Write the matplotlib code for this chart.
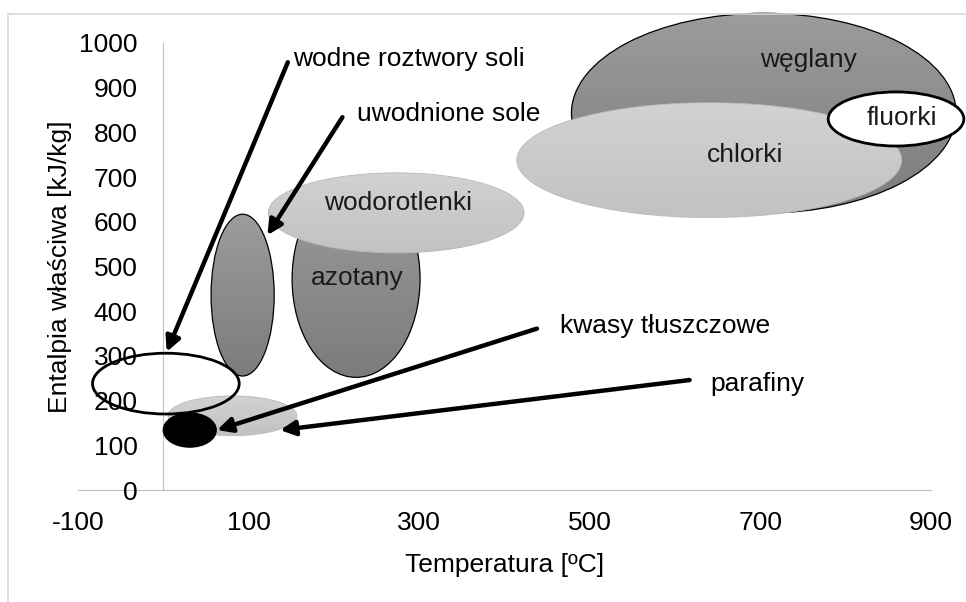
import numpy as np
import matplotlib
matplotlib.use('Agg')
import matplotlib.pyplot as plt
from matplotlib.patches import Ellipse, Rectangle
from matplotlib.colors import LinearSegmentedColormap

plt.rcParams['font.family'] = ['Liberation Sans', 'DejaVu Sans']
plt.rcParams['axes.unicode_minus'] = False

# ellipses: centre (temperature, enthalpy), width, height
groups = ['azotany', 'wodorotlenki', 'uwodnione sole', 'węglany', 'chlorki', 'fluorki',
          'parafiny', 'kwasy tłuszczowe', 'wodne roztwory soli']
cx = [226, 273, 93, 704, 640, 859, 81, 31, 3]
cy = [472, 620, 436, 843, 738, 830, 166, 134, 238]
width = [150, 300, 74, 451, 451, 159, 151, 62, 172]
height = [440, 179, 362, 447, 257, 121, 89, 76, 136]
fill = ['dark', 'light', 'dark', 'dark', 'light', 'white', 'light', 'black', 'none']

# labels drawn inside the ellipses
inner_labels = ['azotany', 'wodorotlenki', 'węglany', 'chlorki', 'fluorki']
inner_x = [227, 275, 756, 682, 866]
inner_y = [474, 642, 962, 749, 832]

# labels with arrows: text position, arrow start, arrow tip
arrow_labels = ['wodne roztwory soli', 'uwodnione sole', 'kwasy tłuszczowe', 'parafiny']
label_x = [152, 227, 465, 641]
label_y = [965, 842, 368, 238]
start_x = [146, 210, 438, 617]
start_y = [957, 834, 361, 246]
tip_x = [4, 122, 63, 137]
tip_y = [309, 570, 134, 134]

FS = 19

fig = plt.figure(figsize=(9.66, 6.02), dpi=100)
fig.patches.append(Rectangle((8 / 966, -0.05), 1.1, 1 - 14 / 602 + 0.05,
                             transform=fig.transFigure, fill=False,
                             edgecolor='#d9d9d9', lw=1.2))
ax = fig.add_axes([78 / 966, 112 / 602, 853 / 966, 447 / 602])
ax.set_xlim(-100, 900)
ax.set_ylim(0, 1000)

dark = LinearSegmentedColormap.from_list('dark', ['#7c7c7c', '#9c9c9c'])
light = LinearSegmentedColormap.from_list('light', ['#c2c2c2', '#d2d2d2'])
grad = np.linspace(0, 1, 256).reshape(-1, 1)


def gradient_ellipse(x, y, w, h, cmap, edge, lw, z):
    e = Ellipse((x, y), w, h, facecolor='none', edgecolor=edge, lw=lw,
                zorder=z + 0.1, clip_on=False)
    ax.add_patch(e)
    im = ax.imshow(grad, cmap=cmap, origin='lower', aspect='auto',
                   extent=(x - w / 2, x + w / 2, y - h / 2, y + h / 2), zorder=z)
    im.set_clip_path(e)
    im.set_clip_box(fig.bbox)


for i, g in enumerate(groups):
    z = 2 + i
    if fill[i] == 'dark':
        gradient_ellipse(cx[i], cy[i], width[i], height[i], dark, 'black', 0.9, z)
    elif fill[i] == 'light':
        gradient_ellipse(cx[i], cy[i], width[i], height[i], light, '#b8b8b8', 0.6, z)
    elif fill[i] == 'white':
        ax.add_patch(Ellipse((cx[i], cy[i]), width[i], height[i], facecolor='white',
                             edgecolor='black', lw=2, zorder=z, clip_on=False))
    elif fill[i] == 'black':
        ax.add_patch(Ellipse((cx[i], cy[i]), width[i], height[i], facecolor='black',
                             edgecolor='black', lw=1, zorder=z))
    else:
        ax.add_patch(Ellipse((cx[i], cy[i]), width[i], height[i], facecolor='none',
                             edgecolor='black', lw=2, zorder=z))

for t, x, y in zip(inner_labels, inner_x, inner_y):
    ax.text(x, y, t, ha='center', va='center', fontsize=FS, color='#1a1a1a',
            zorder=20, clip_on=False)

for t, lx, ly, sx, sy, tx, ty in zip(arrow_labels, label_x, label_y,
                                     start_x, start_y, tip_x, tip_y):
    ax.text(lx, ly, t, ha='left', va='center', fontsize=FS, zorder=20)
    ax.annotate('', xy=(tx, ty), xytext=(sx, sy), zorder=21,
                arrowprops=dict(arrowstyle='-|>', lw=3.2, color='black',
                                mutation_scale=22, shrinkA=0, shrinkB=0))

ax.spines['top'].set_visible(False)
ax.spines['right'].set_visible(False)
ax.spines['left'].set_position(('data', 0))
ax.spines['left'].set_color('#c0c0c0')
ax.spines['bottom'].set_color('#c0c0c0')
ax.spines['left'].set_zorder(1)
ax.spines['bottom'].set_zorder(1)

ax.set_xticks(np.arange(-100, 901, 200))
ax.set_yticks(np.arange(0, 1001, 100))
ax.tick_params(axis='y', length=0, pad=18.5, labelsize=FS)
ax.tick_params(axis='x', length=0, pad=15, labelsize=FS)

ax.set_xlabel('Temperatura [ºC]', fontsize=FS, labelpad=13)
ax.set_ylabel('Entalpia właściwa [kJ/kg]', fontsize=FS, labelpad=5)

fig.savefig('out.png', dpi=100)
